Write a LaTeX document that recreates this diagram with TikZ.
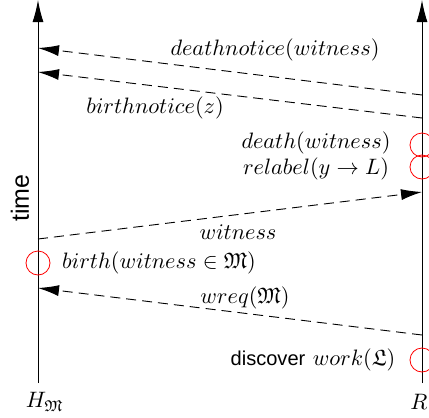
\documentclass[tikz,border=0pt]{standalone}
\usepackage{amssymb}
\usepackage{fontspec}
\setsansfont{Liberation Sans}
\usetikzlibrary{arrows.meta}
\begin{document}
\begin{tikzpicture}[x=1pt,y=-1pt,
  lbl/.style={scale=2.23, inner sep=0pt},
  msg/.style={dash pattern=on 10pt off 6pt, line width=0.9pt, -{Latex[length=21pt,width=11pt]}},
  axisline/.style={line width=1.0pt, -{Latex[length=22pt,width=11pt]}},
  evt/.style={circle, draw=red, line width=0.8pt, minimum size=24pt, inner sep=0pt}]
\useasboundingbox (0,0) rectangle (429,418);
% process lines
\coordinate (Ltop) at (38,0);
\coordinate (Lbot) at (38,383);
\coordinate (Rtop) at (422,0);
\coordinate (Rbot) at (422,383);
\draw[axisline] (Lbot) -- (Ltop);
\draw[axisline] (Rbot) -- (Rtop);
% message end points
\coordinate (dnS) at (422,95);
\coordinate (dnE) at (38,48);
\coordinate (bnS) at (422,118);
\coordinate (bnE) at (38,72);
\coordinate (wS) at (38,239);
\coordinate (wE) at (422,192);
\coordinate (rqS) at (422,335);
\coordinate (rqE) at (38,288);
\draw[msg] (dnS) -- (dnE);
\draw[msg] (bnS) -- (bnE);
\draw[msg] (wS) -- (wE);
\draw[msg] (rqS) -- (rqE);
% events
\node[evt] (e1) at (422,145) {};
\node[evt] (e2) at (422,167) {};
\node[evt] (e3) at (38,263) {};
\node[evt] (e4) at (422,360) {};
% labels
\node[lbl] (dnl) at (275,50) {$deathnotice(witness)$};
\node[lbl] (bnl) at (155,108) {$birthnotice(z)$};
\node[lbl] (del) at (316,142.5) {$death(witness)$};
\node[lbl] (rel) at (316,169) {$relabel(y \rightarrow L)$};
\node[lbl] (wl) at (238,232) {$witness$};
\node[lbl] (bl) at (159,263) {$birth(witness \in \mathfrak{M})$};
\node[lbl] (rql) at (245,298) {$wreq(\mathfrak{M})$};
\node[lbl] (dl) at (313,360) {{\sffamily\fontsize{9}{11}\selectfont discover} $work(\mathfrak{L})$};
\node[lbl] (hl) at (45,402) {$H_{\mathfrak{M}}$};
\node[lbl] (rl) at (419,402) {$R$};
\node[lbl, rotate=90] (tl) at (20,198) {\sffamily\fontsize{11.2}{13}\selectfont time};
\end{tikzpicture}
\end{document}
